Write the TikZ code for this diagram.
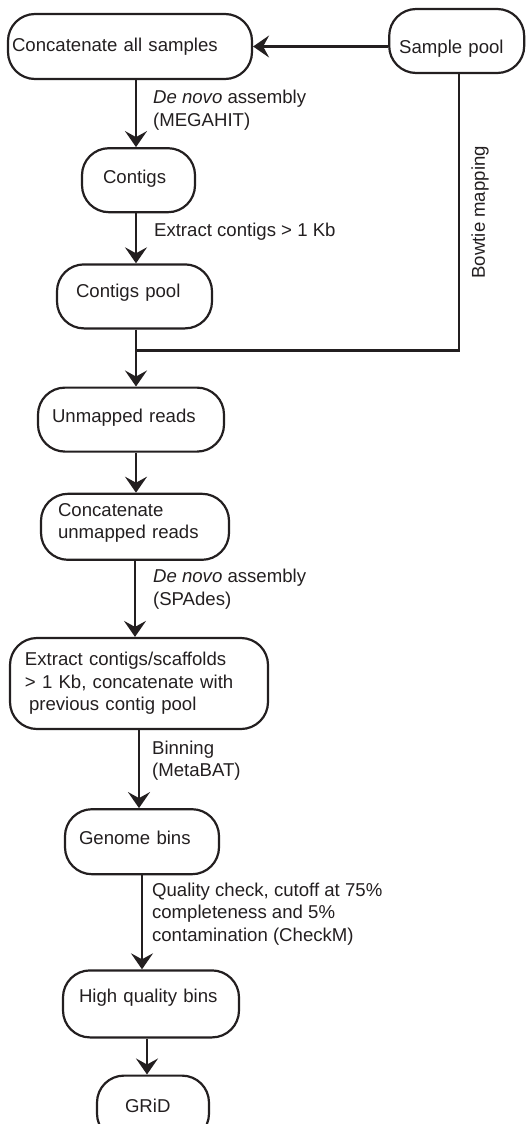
\documentclass[tikz,border=0pt]{standalone}
\usepackage{fontspec}
\setmainfont{Liberation Sans}
\usetikzlibrary{positioning,arrows.meta}
\definecolor{ink}{RGB}{35,31,32}

\begin{document}
\begin{tikzpicture}[
    color=ink,
    font=\fontsize{9.3}{11.2}\selectfont,
    stage/.style={draw, line width=1.1pt, rounded corners=13.5pt, align=left, text height=6.8pt},
    note/.style={anchor=west, align=left, inner sep=0pt},
    flow/.style={line width=1.1pt, -{Stealth[length=8pt, width=11pt, inset=3pt]}}
  ]
  \useasboundingbox (0,0) rectangle (263pt,-562pt);

  \node (concat) [stage, text width=118pt, inner xsep=2pt, minimum height=32.5pt, text depth=1.7pt] at (65pt,-23.25pt) {Concatenate all samples};
  \node (sample) [stage, right=67.5pt of concat, yshift=2.75pt, text width=57.5pt, inner xsep=5pt, minimum height=32pt, text height=13pt, text depth=0.4pt] {Sample pool};
  \node (contigs) [stage, below=33.5pt of concat, xshift=4.25pt, text width=35.5pt, inner xsep=10.5pt, minimum height=32pt, text depth=3.2pt] {Contigs};
  \node (pool) [stage, below=25pt of contigs, xshift=-2pt, text width=58.5pt, inner xsep=9.5pt, minimum height=32pt, text depth=6.2pt] {Contigs pool};
  \node (unmapped) [stage, below=28.5pt of pool, xshift=-1.75pt, text width=79pt, inner xsep=7pt, minimum height=32pt, text depth=4.2pt] {Unmapped reads};
  \node (concat2) [stage, below=20pt of unmapped, xshift=2pt, text width=77pt, inner xsep=8.5pt, minimum height=33pt, text depth=17.4pt] {Concatenate\\unmapped reads};
  \node (extract) [stage, below=38pt of concat2, xshift=2pt, text width=114pt, inner xsep=7.5pt, minimum height=45.5pt] {Extract contigs/scaffolds\\> 1 Kb, concatenate with\\\hspace*{2pt}previous contig pool};
  \node (genome) [stage, below=39pt of extract, xshift=1.5pt, text width=63pt, inner xsep=7pt, minimum height=32.5pt, text depth=3.7pt] {Genome bins};
  \node (hq) [stage, below=47pt of genome, xshift=4.5pt, text width=72pt, inner xsep=8pt, minimum height=33.5pt, text depth=8.2pt] {High quality bins};
  \node (grid) [stage, below=18pt of hq, xshift=1pt, text width=28pt, inner xsep=14pt, minimum height=32.5pt, text depth=2.2pt] {GRiD};

  \coordinate (merge) at ([xshift=.75pt, yshift=-10.5pt]pool.south);

  \path[flow]
    (sample.west |- concat.east) edge (concat.east)
    ([xshift=3pt]concat.south) edge node[note, pos=.45, xshift=8pt] {\textit{De novo} assembly\\(MEGAHIT)} ([xshift=3pt]concat.south |- contigs.north)
    ([xshift=-1.25pt]contigs.south) edge node[note, pos=.36, xshift=8.5pt] {Extract contigs > 1 Kb} ([xshift=-1.25pt]contigs.south |- pool.north)
    ([xshift=2.5pt]unmapped.south) edge ([xshift=2.5pt]unmapped.south |- concat2.north)
    (concat2.south) edge node[note, pos=.37, xshift=8.5pt] {\textit{De novo} assembly\\(SPAdes)} (concat2.south |- extract.north)
    (extract.south) edge node[note, pos=.39, xshift=6pt] {Binning\\(MetaBAT)} (extract.south |- genome.north)
    (genome.south) edge node[note, pos=.41, xshift=4.5pt] {Quality check, cutoff at 75\%\\completeness and 5\%\\contamination (CheckM)} (genome.south |- hq.north)
    ([xshift=-2pt]hq.south) edge ([xshift=-2pt]hq.south |- grid.north);

  % reads mapped back onto the first pool
  \draw[line width=1.1pt] ([xshift=1.25pt]sample.south) |- node[pos=.25, rotate=90, anchor=north, inner xsep=0pt, inner ysep=5.5pt] {Bowtie mapping} (merge);
  \draw[flow] ([xshift=.75pt]pool.south) -- (merge) -- (merge |- unmapped.north);

\end{tikzpicture}
\end{document}
